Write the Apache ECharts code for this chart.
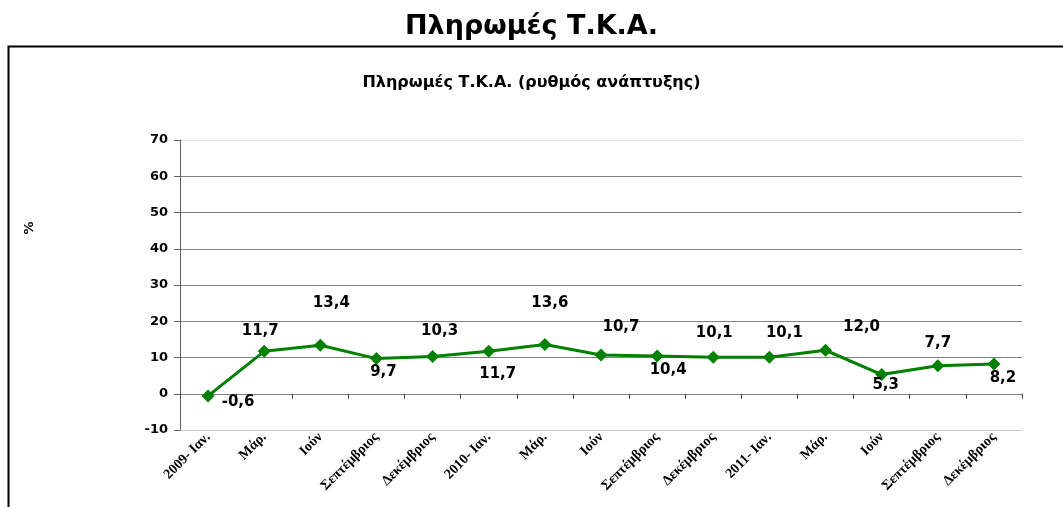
<!DOCTYPE html>
<html lang="el">
<head>
<meta charset="UTF-8">
<title>Πληρωμές Τ.Κ.Α.</title>
<style>
  html, body { margin: 0; padding: 0; background: #fff; }
  #main { width: 1063px; height: 507px; }
</style>
</head>
<body>
<div id="main"></div>
<script src="https://cdn.jsdelivr.net/npm/echarts@6/dist/echarts.min.js"></script>
<script>
  // κατηγορίες και τιμές (ρυθμός ανάπτυξης %)
  var months = [
    '2009- Ιαν.', 'Μάρ.', 'Ιούν', 'Σεπτέμβριος', 'Δεκέμβριος',
    '2010- Ιαν.', 'Μάρ.', 'Ιούν', 'Σεπτέμβριος', 'Δεκέμβριος',
    '2011- Ιαν.', 'Μάρ.', 'Ιούν', 'Σεπτέμβριος', 'Δεκέμβριος'
  ];
  var growth = [-0.6, 11.7, 13.4, 9.7, 10.3, 11.7, 13.6, 10.7, 10.4, 10.1, 10.1, 12.0, 5.3, 7.7, 8.2];
  var yMin = -10, yMax = 70, yStep = 10;

  // μετατόπιση ετικετών ως προς το σημείο (μόνο εμφάνιση)
  var labelShift = [
    [30, 6], [-4, -20], [11, -42], [7, 14], [7, -25],
    [9, 23], [5, -41], [20, -28], [11, 14], [1, -24],
    [15, -24], [36, -23], [4, 11], [0, -23], [9, 14]
  ];

  var seriesData = growth.map(function (v, i) {
    return { value: v, label: { offset: labelShift[i] } };
  });

  var myChart = echarts.init(document.getElementById('main'));
  var option = {
    backgroundColor: '#fff',
    animation: false,
    title: [{
      text: 'Πληρωμές Τ.Κ.Α.',
      left: 'center',
      top: 8,
      textStyle: { fontFamily: 'DejaVu Sans', fontSize: 27, fontWeight: 'bold', color: '#000' }
    }, {
      text: 'Πληρωμές Τ.Κ.Α. (ρυθμός ανάπτυξης)',
      left: 'center',
      top: 70,
      textStyle: { fontFamily: 'DejaVu Sans', fontSize: 16, fontWeight: 'bold', color: '#000' }
    }],
    graphic: [{
      type: 'rect',
      shape: { x: 8.5, y: 46.5, width: 1100, height: 500 },
      style: { fill: null, stroke: '#000', lineWidth: 2 },
      silent: true
    }, {
      type: 'text',
      x: 30,
      y: 228,
      rotation: Math.PI / 2,
      style: {
        text: '%',
        fontFamily: 'DejaVu Sans',
        fontSize: 13,
        fontWeight: 'bold',
        fill: '#000',
        align: 'center',
        verticalAlign: 'middle'
      },
      silent: true
    }],
    grid: { left: 180, right: 41, top: 140, bottom: 77 },
    xAxis: [{
      type: 'category',
      data: months,
      boundaryGap: true,
      axisLine: { show: false, onZero: false },
      axisTick: { show: false },
      axisLabel: {
        rotate: 45,
        interval: 0,
        margin: 5,
        fontFamily: 'Liberation Serif',
        fontSize: 14,
        fontWeight: 'bold',
        color: '#000'
      }
    }, {
      type: 'category',
      data: months,
      position: 'bottom',
      boundaryGap: true,
      axisLine: { show: true, onZero: true, lineStyle: { color: '#808080', width: 1 } },
      axisTick: { show: true, interval: 0, length: 5, lineStyle: { color: '#404040' } },
      axisLabel: { show: false }
    }],
    yAxis: {
      type: 'value',
      min: yMin,
      max: yMax,
      interval: yStep,
      axisLine: { show: true, lineStyle: { color: '#606060', width: 1 } },
      axisTick: { show: true, length: 6, lineStyle: { color: '#606060' } },
      axisLabel: {
        margin: 12,
        fontFamily: 'DejaVu Sans',
        fontSize: 13,
        fontWeight: 'bold',
        color: '#000'
      },
      splitLine: {
        show: true,
        lineStyle: {
          color: ['#c8c8c8', '#808080', '#808080', '#808080', '#808080', '#808080', '#808080', '#808080', '#e0e0e0'],
          width: 1
        }
      }
    },
    series: [{
      type: 'line',
      data: seriesData,
      symbol: 'diamond',
      symbolSize: 13,
      lineStyle: { color: '#008000', width: 3 },
      itemStyle: { color: '#008000' },
      label: {
        show: true,
        position: 'inside',
        fontFamily: 'DejaVu Sans',
        fontSize: 15,
        fontWeight: 'bold',
        color: '#000',
        formatter: function (p) {
          return p.value.toFixed(1).replace('.', ',');
        }
      }
    }]
  };
  myChart.setOption(option);
</script>
</body>
</html>
